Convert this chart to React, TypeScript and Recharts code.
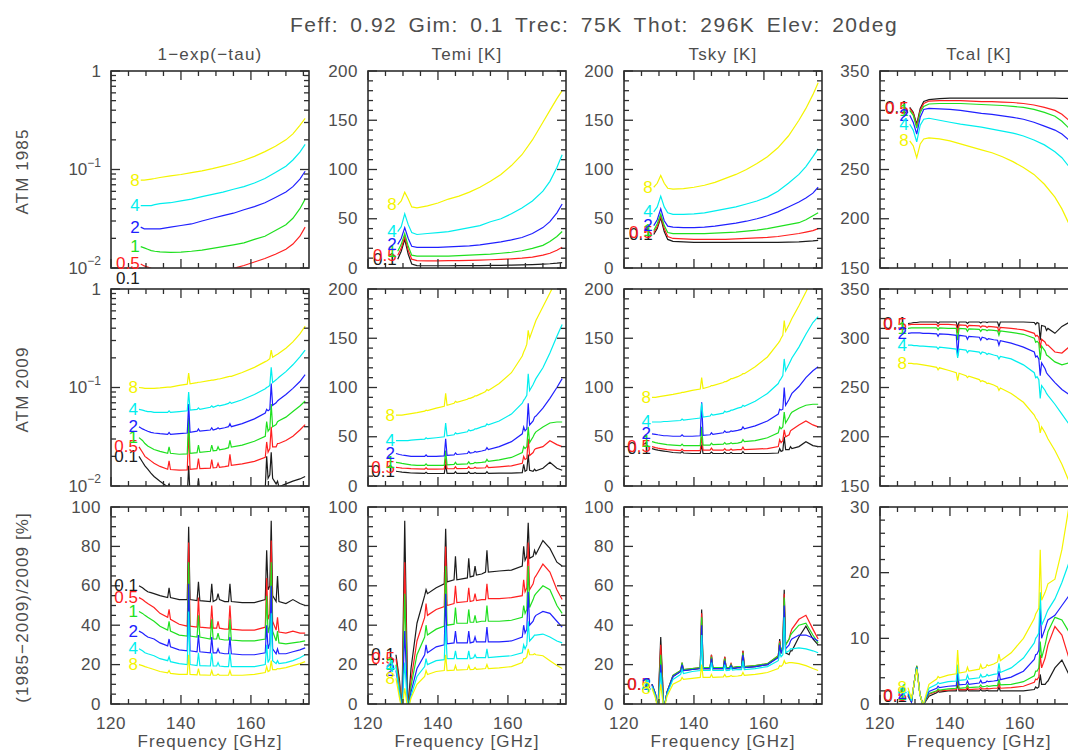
import React from 'react'
import { LineChart, Line, XAxis, YAxis } from 'recharts'

// precipitable water vapour per curve, and the IDL-ish colour order
const PWV = ['0.1', '0.5', '1', '2', '4', '8']
const COLORS = ['#1c1c1c', '#ff2020', '#1fe01f', '#2020ff', '#00eeee', '#f4f400']

const FONT = '"Liberation Sans", Arial, Helvetica, sans-serif'
const INK = '#4d4d4d'
const FRAME = '#2e2e2e'

// frequency grids [GHz]
const FREQ_1985 = [128.5, 129.5, 130.5, 131.5, 132.5, 134, 137, 140, 143, 146, 149, 152, 155, 158, 161, 164, 167, 170, 172, 174, 175.5]
const FREQ_2009 = [
  128, 129, 129.7, 130.5, 131.4, 132.3, 134,
  136.2, 136.6, 137, 139.5, 141.8, 142.2, 142.6,
  144.6, 145, 145.4, 148.4, 148.8, 149.2, 150.2,
  150.6, 151, 152.5, 153.6, 154, 154.4, 157.5,
  161, 164.1, 164.5, 164.9, 165.4, 165.8, 166.2,
  167.2, 167.6, 168, 170, 172, 174, 175.5,
]

// ---- ATM 1985 (one row per PWV: 0.1, 0.5, 1, 2, 4, 8)
const OPACITY_1985 = [
  [0.0078, 0.0074, 0.0071, 0.0068, 0.0066, 0.0064, 0.0061, 0.0059, 0.0058, 0.0058, 0.0058, 0.0059, 0.006, 0.0062, 0.0064, 0.0067, 0.0071, 0.0077, 0.0083, 0.0092, 0.0099],
  [0.011, 0.0105, 0.0102, 0.0099, 0.0097, 0.0095, 0.0092, 0.009, 0.009, 0.0091, 0.0093, 0.0096, 0.0099, 0.0106, 0.0115, 0.0125, 0.0138, 0.0155, 0.0175, 0.021, 0.026],
  [0.0165, 0.016, 0.0155, 0.015, 0.0148, 0.0146, 0.0144, 0.0145, 0.0148, 0.0152, 0.0158, 0.0165, 0.0172, 0.018, 0.0195, 0.021, 0.024, 0.0275, 0.032, 0.04, 0.05],
  [0.026, 0.025, 0.025, 0.025, 0.025, 0.025, 0.026, 0.027, 0.028, 0.03, 0.032, 0.034, 0.036, 0.039, 0.042, 0.046, 0.052, 0.059, 0.067, 0.08, 0.096],
  [0.043, 0.043, 0.043, 0.043, 0.044, 0.045, 0.046, 0.048, 0.05, 0.053, 0.056, 0.059, 0.063, 0.067, 0.073, 0.081, 0.093, 0.108, 0.125, 0.15, 0.18],
  [0.078, 0.078, 0.079, 0.08, 0.081, 0.083, 0.086, 0.089, 0.093, 0.097, 0.102, 0.108, 0.115, 0.124, 0.136, 0.152, 0.172, 0.2, 0.23, 0.28, 0.33],
]
const TEMI_1985 = [
  [9, 17, 29, 14, 4, 2.5, 2.3, 2.3, 2.3, 2.4, 2.4, 2.5, 2.6, 2.7, 2.9, 3.1, 3.4, 3.9, 4.3, 4.9, 5.5],
  [13, 20, 32, 18, 9, 7.5, 7.3, 7.3, 7.4, 7.5, 7.7, 8, 8.4, 8.8, 9.3, 10, 11, 13, 15, 18, 21],
  [17, 24, 35, 22, 13, 12, 12, 12, 12, 12.5, 13, 13.5, 14, 15, 16, 17.5, 20, 23, 27, 32, 37],
  [24, 30, 41, 30, 22, 21, 21, 21, 21.5, 22, 22.5, 23.5, 25, 26.5, 28.5, 31, 35, 41, 47, 56, 65],
  [37, 42, 55, 44, 36, 34, 35, 36, 37, 39, 41, 43, 47, 50, 55, 61, 68, 78, 88, 102, 115],
  [64, 68, 77, 70, 62, 61, 63, 66, 70, 73, 77, 82, 88, 95, 104, 115, 130, 148, 160, 172, 180],
]
const TSKY_1985 = [
  [34, 40, 51, 37, 29, 27, 26.5, 26, 26, 26, 26, 26, 26, 26, 26, 26, 26.2, 26.5, 27, 27.5, 28],
  [36, 42, 53, 40, 32, 30, 29.5, 29, 29, 29, 29, 29.5, 30, 30.5, 31, 32, 33.5, 35, 36.5, 38, 40],
  [38, 45, 55, 43, 36, 35, 35, 35, 35, 35.5, 36, 36.5, 37.5, 38.5, 40, 42, 44, 46, 49, 53, 56],
  [43, 49, 60, 48, 42.5, 41.5, 41, 41, 41.5, 42.5, 44, 45.5, 47.5, 50, 53, 57, 62, 67, 71, 76, 82],
  [57, 62, 73, 62, 56, 54.5, 54.5, 55, 56, 58, 60, 62, 65, 68, 72, 78, 86, 95, 103, 113, 121],
  [82, 86, 94, 86, 81, 80, 80.5, 82, 84, 87, 91, 95, 100, 106, 113, 122, 134, 150, 162, 176, 188],
]
const TCAL_1985 = [
  [313, 308, 296, 312, 319, 321, 322, 322.5, 322.5, 322.5, 322.5, 322.5, 322.5, 322.5, 322.5, 322.5, 322.5, 322.5, 322.3, 322.2, 322],
  [312, 307, 294, 310, 317, 319.5, 320, 320, 320, 319.5, 319, 319, 318.5, 318, 317, 315.5, 313, 310, 306, 300, 294],
  [310, 305, 292, 308, 314, 316.5, 317, 317, 317, 316.5, 316, 315.5, 315, 314, 313, 311, 308, 304, 299, 292, 285],
  [305, 298, 286, 303, 311, 312, 311.5, 311, 310, 308.5, 307, 306, 304.5, 303, 301, 298, 294, 290, 286, 280, 274],
  [296, 290, 278, 295, 301, 302, 300, 298, 296, 294.5, 293, 291, 289, 287, 284, 280, 275, 268, 262, 253, 245],
  [279, 274, 262, 276, 281, 282, 281, 279, 276, 273, 270, 267, 263, 258, 252, 245, 235, 222, 210, 195, 178],
]

// ---- ATM 2009
const OPACITY_2009 = [
  [0.02, 0.0175, 0.016, 0.0148, 0.0135, 0.0125, 0.0112, 0.0098, 0.0105, 0.0095, 0.0085, 0.008, 0.016, 0.0081, 0.0082, 0.012, 0.0082, 0.0083, 0.011, 0.0083, 0.0084, 0.0095, 0.0084, 0.0085, 0.0086, 0.0098, 0.0087, 0.0088, 0.009, 0.0095, 0.02, 0.012, 0.013, 0.022, 0.012, 0.0105, 0.0112, 0.0098, 0.0105, 0.0112, 0.0118, 0.0125],
  [0.025, 0.022, 0.02, 0.019, 0.018, 0.017, 0.0158, 0.0148, 0.018, 0.0147, 0.0145, 0.0146, 0.037, 0.0148, 0.015, 0.019, 0.015, 0.0152, 0.0185, 0.0153, 0.0154, 0.017, 0.0155, 0.0157, 0.016, 0.021, 0.0162, 0.0168, 0.0178, 0.0195, 0.028, 0.022, 0.024, 0.04, 0.025, 0.025, 0.027, 0.027, 0.029, 0.032, 0.037, 0.042],
  [0.031, 0.029, 0.027, 0.0255, 0.0245, 0.0235, 0.0225, 0.0215, 0.025, 0.0215, 0.021, 0.0212, 0.05, 0.0215, 0.0218, 0.026, 0.022, 0.0225, 0.026, 0.0228, 0.023, 0.025, 0.0233, 0.0238, 0.0245, 0.029, 0.0248, 0.026, 0.0285, 0.032, 0.045, 0.036, 0.038, 0.068, 0.04, 0.042, 0.045, 0.046, 0.05, 0.057, 0.065, 0.073],
  [0.04, 0.038, 0.037, 0.036, 0.035, 0.0345, 0.034, 0.0335, 0.035, 0.0335, 0.034, 0.0345, 0.068, 0.035, 0.036, 0.038, 0.036, 0.037, 0.039, 0.037, 0.038, 0.039, 0.038, 0.039, 0.04, 0.043, 0.04, 0.043, 0.048, 0.055, 0.06, 0.058, 0.06, 0.11, 0.066, 0.07, 0.073, 0.075, 0.085, 0.098, 0.115, 0.135],
  [0.06, 0.059, 0.058, 0.057, 0.057, 0.056, 0.056, 0.056, 0.058, 0.056, 0.057, 0.058, 0.09, 0.059, 0.06, 0.062, 0.06, 0.063, 0.065, 0.063, 0.065, 0.066, 0.065, 0.067, 0.069, 0.071, 0.069, 0.075, 0.085, 0.097, 0.1, 0.102, 0.105, 0.16, 0.112, 0.12, 0.123, 0.127, 0.145, 0.17, 0.205, 0.24],
  [0.1, 0.099, 0.098, 0.098, 0.098, 0.098, 0.099, 0.101, 0.101, 0.101, 0.105, 0.108, 0.14, 0.109, 0.112, 0.113, 0.113, 0.118, 0.119, 0.119, 0.121, 0.122, 0.122, 0.126, 0.129, 0.13, 0.13, 0.142, 0.16, 0.183, 0.186, 0.19, 0.196, 0.24, 0.203, 0.214, 0.218, 0.223, 0.25, 0.29, 0.35, 0.42],
]
const TEMI_2009 = [
  [15, 14.5, 14, 13.8, 13.5, 13.2, 13, 12.8, 14, 12.8, 12.7, 12.7, 22, 12.8, 12.8, 14.5, 12.8, 12.8, 14.5, 12.8, 12.8, 13.5, 12.8, 12.8, 12.9, 14.5, 12.9, 13, 13.1, 13.5, 22, 15, 16, 32, 16, 15, 17, 15.5, 18, 24, 18, 16],
  [19, 18.5, 18.2, 18, 17.8, 17.6, 17.4, 17.2, 18.5, 17.2, 17.2, 17.3, 28, 17.5, 17.6, 19.5, 17.7, 17.8, 19.5, 17.9, 18, 19, 18.1, 18.3, 18.5, 21, 18.7, 19.5, 20.5, 23, 30, 27, 28, 48, 31, 34, 37, 38, 40, 46, 42, 40],
  [24, 23.5, 23, 22.5, 22, 21.5, 21, 21, 22.5, 21, 21, 21, 36, 21.5, 22, 24, 22, 22.5, 24.5, 22.5, 23, 24, 23.5, 24, 24.5, 27, 25, 26.5, 29, 34, 40, 38, 40, 60, 44, 50, 53, 55, 60, 64, 65, 65],
  [33, 32, 31.5, 31, 30.5, 30, 30, 30, 31.5, 30, 30, 30.5, 48, 31, 31.5, 33.5, 32, 33, 35, 33.5, 34, 35, 34.5, 35.5, 36.5, 39, 37, 40, 45, 53, 60, 56, 58, 84, 62, 66, 70, 71, 79, 89, 100, 109],
  [46, 46, 46, 46, 46, 46.5, 47, 47.5, 49, 48, 49, 50, 64, 51, 52, 54, 53, 55, 57, 56, 57, 58, 58, 60, 61, 63, 62, 66, 73, 84, 87, 89, 92, 114, 97, 103, 106, 109, 120, 135, 152, 164],
  [72, 72, 72, 72.5, 73, 73.5, 74.5, 76, 77, 76.5, 79, 81, 94, 82, 84, 86, 85, 88, 89, 89, 90.5, 91.5, 91.5, 94, 96, 98, 97, 104, 115, 132, 136, 139, 144, 158, 150, 160, 164, 168, 182, 196, 210, 220],
]
const TSKY_2009 = [
  [38, 37, 36.5, 36, 35.5, 35, 34, 33.5, 35, 33.5, 33, 33, 42, 33, 33, 34.5, 33, 33, 34.5, 33, 33, 34, 33, 33, 33, 35, 33, 33, 33, 33.5, 38, 35, 36, 50, 37, 37, 40, 38, 40, 45, 41, 40],
  [40, 39, 38.5, 38, 37.5, 37, 36.5, 36, 37.5, 36, 36, 36, 50, 36.5, 36.5, 38.5, 36.5, 36.5, 38, 36.5, 36.5, 37.5, 36.5, 37, 37, 39.5, 37, 37.5, 38, 40, 47, 44, 46, 57, 50, 52, 56, 57, 62, 66, 62, 60],
  [45, 44, 43.5, 43, 42.5, 42, 41.5, 41, 42.5, 41, 41, 41, 60, 41.5, 41.5, 43.5, 42, 42.5, 44, 42.5, 43, 44, 43, 43.5, 44.5, 47, 45, 46, 49, 54, 60, 58, 60, 75, 64, 70, 73, 75, 79, 82, 83, 83],
  [53, 52.5, 52, 51.5, 51, 51, 50.5, 50.5, 52, 50.5, 50.5, 51, 85, 51.5, 52, 54, 52.5, 54, 56, 54.5, 55, 56, 55.5, 56.5, 57.5, 60, 58, 61, 66, 73, 78, 77, 78, 100, 82, 88, 91, 94, 101, 110, 117, 121],
  [65, 65, 65, 65, 65.5, 65.5, 66, 66.5, 68, 67, 68, 69, 84, 70, 71, 73, 72, 74, 76, 75, 76, 77, 77, 79, 80, 82, 81, 86, 94, 104, 107, 109, 112, 129, 117, 124, 127, 130, 141, 154, 166, 172],
  [90, 90, 90.5, 91, 91.5, 92, 93, 94.5, 95, 95, 97, 98.5, 110, 99, 101, 102, 102, 105, 106, 106, 108, 109, 109, 111, 113, 114, 114, 121, 131, 145, 147, 150, 153, 168, 157, 164, 167, 170, 183, 197, 212, 222],
]
const TCAL_2009 = [
  [315, 315.5, 316, 316, 316.5, 316.5, 316.5, 316.5, 315, 316.5, 316.5, 316.5, 311, 316.5, 316.5, 315, 316.5, 316.5, 315.5, 316.5, 316.5, 316, 316.5, 316.5, 316.5, 312, 316.5, 316.5, 316.5, 316, 314, 316, 315, 298, 313, 312, 308, 310, 305, 312, 316, 317],
  [313.5, 314, 314, 314, 314, 314, 314, 314, 312, 314, 314, 313.5, 305, 313.5, 313, 311, 313, 312.5, 311, 312.5, 312, 311, 312, 311.5, 311, 307, 311, 310, 308.5, 305, 302, 303, 301, 290, 299, 296, 293, 293, 286, 285, 291, 293],
  [310, 310.5, 310.5, 310.5, 310.5, 310.5, 310.5, 310.5, 308.5, 310.5, 310, 310, 298, 310, 309.5, 307, 309.5, 309, 307, 309, 308.5, 307.5, 308.5, 308, 307.5, 303, 307.5, 306, 304, 300, 296, 297, 295, 278, 292, 287, 283, 282, 276, 273, 275, 277],
  [305, 305.5, 305.5, 305.5, 305.5, 305, 305, 304.5, 302, 304.5, 304, 303, 282, 303, 302, 299, 302, 301, 298, 301, 300, 298.5, 299.5, 298.5, 298, 293, 297.5, 295, 291, 286, 281, 282, 279, 262, 275, 269, 265, 263, 255, 248, 243, 238],
  [293, 293, 292.5, 292.5, 292, 292, 291.5, 291, 289, 291, 290, 289, 280, 289, 288, 285.5, 287.5, 286, 284, 286, 285, 283.5, 284.5, 283, 282, 279, 281.5, 279, 273, 265, 260, 261, 258, 239, 252, 247, 244, 242, 233, 223, 213, 205],
  [274.5, 274.5, 274, 274, 273.5, 273, 272, 270.5, 268, 270, 267.5, 265, 257, 264.5, 262, 260, 261.5, 258, 256, 257, 255.5, 254, 254.5, 252.5, 250.5, 247, 249.5, 244, 235, 222, 219, 217, 214, 204, 210, 204, 201, 198, 186, 172, 155, 140],
]

// ---- (1985-2009)/2009 [%]
const DIFF_OPACITY = [
  [60, 59, 58, 57, 56.5, 56, 55, 54, 59, 54, 53, 53, 90, 53, 52.5, 62, 52.5, 52, 61, 52, 53, 56, 53, 52, 52, 61, 52, 51.5, 51.5, 53, 78, 58, 60, 93, 55, 52, 65, 52, 51, 53, 51, 50],
  [54, 53, 52, 51, 50, 49, 46, 44, 48, 43, 40.5, 39.5, 82, 39.5, 39, 54, 39, 38.5, 50, 38.5, 38.5, 42, 38.5, 38, 38, 50, 38, 37.5, 37.5, 39, 64, 43, 46, 83, 42, 37.5, 44, 36.5, 36, 37, 36, 36],
  [47, 46, 45, 44, 43, 42, 39.5, 37.5, 42, 37, 35, 34.5, 72, 34.5, 34, 45, 34, 33, 43, 33, 33, 36, 33, 32.5, 32.5, 43, 32.5, 32, 32, 33, 55, 36, 40, 72, 37, 32, 37, 31, 30.5, 31, 31.5, 32],
  [37, 36, 35, 34, 33.5, 33, 31, 29.5, 33, 29, 27.5, 27, 61, 27, 26.5, 35, 26.5, 26, 34, 26, 26, 28, 26, 25.5, 25.5, 34, 25.5, 25, 25, 26, 40, 28, 31, 60, 28, 25.5, 28, 25.5, 25.5, 26.5, 27.5, 28.5],
  [28, 27, 26, 25.5, 25, 24.5, 23, 22, 24, 21.5, 20.5, 20, 47, 20, 19.5, 26, 19.5, 19.3, 26, 19.3, 19.3, 21, 19.3, 19, 19, 26, 19, 19, 19, 20, 30, 21, 23, 46, 22, 20.5, 22, 20.5, 21, 22, 23.5, 25],
  [20, 19.5, 19, 18.5, 18, 17.5, 16.5, 15.8, 17, 15.5, 15, 15, 25, 15, 14.8, 18, 14.8, 14.6, 17, 14.6, 14.6, 15.2, 14.6, 14.6, 14.6, 17, 14.6, 14.6, 15, 16, 19, 16.5, 17, 22, 17.5, 17.5, 18, 17.8, 18.5, 19.5, 20.5, 21.5],
]
const DIFF_TEMI = [
  [25, 12, -3, 93, -3, 18, 41, 55, 58, 56, 59, 61, 89, 62, 63, 75, 63, 64, 74, 64.5, 65, 70, 65.5, 66, 67, 78, 67, 67.5, 68, 70, 80, 73, 75, 92, 74, 75, 78, 76, 83, 79, 72, 70],
  [23, 10, -3, 72, -3, 12, 32, 44, 51, 45, 48, 49.5, 80, 50, 51, 60, 51.5, 52, 59, 52, 52.5, 56, 52.5, 53, 53, 61, 53.5, 53.5, 54, 55, 63, 57, 59, 82, 58, 61, 64, 65, 71, 67, 58, 53],
  [20, 8, -3, 56, -3, 9, 25, 34, 40, 35, 38, 39.5, 70, 40, 40.5, 49, 41, 41, 48, 41.5, 41.5, 45, 41.5, 42, 42, 50, 42, 42, 42.5, 44, 50, 46, 48, 70, 49, 53, 55, 56, 60, 58, 50, 46],
  [17, 6, -3, 37, -3, 6, 18, 25, 30, 26, 29, 30, 56, 30.5, 31, 37, 31, 31, 37, 31, 31.5, 34, 31.5, 31.5, 31.5, 39, 31.5, 31.5, 32, 34, 40, 36, 38, 57, 40, 42, 44, 45, 47, 46, 42, 39],
  [19, 5, -3, 21, -3, 4, 14, 19, 23, 20, 22, 22.5, 40, 23, 23, 27, 23, 23, 27, 23, 23.5, 25, 23.5, 23.5, 23.5, 28, 23.5, 24, 24.5, 26, 30, 28, 30, 42, 32, 34, 35, 35, 35.5, 34, 32, 31],
  [13, 3, -3, 8, -3, 3, 10, 14, 17, 15, 16.5, 17, 25, 17, 17.2, 19.5, 17.2, 17.5, 19.5, 17.5, 17.6, 18.5, 17.6, 17.8, 18, 20, 18, 18.3, 19, 21, 23, 23, 24, 28, 25, 25, 25.5, 25, 24.5, 22, 19.5, 18],
]
const DIFF_TSKY = [
  [10, 5, -3, 34, -3, 6, 14, 16.5, 20, 17, 17.5, 18, 48, 18, 18, 25, 18, 18, 24, 18, 18, 20, 18, 18.5, 18.5, 27, 18.5, 19, 20, 24, 33, 26, 28, 58, 26, 25, 27, 27, 34, 39.5, 33, 30],
  [10, 5, -3, 30, -3, 6, 14.5, 17, 21, 17.5, 18, 18.5, 46, 18.5, 18.5, 25, 18.5, 18.5, 24, 18.5, 18.5, 20.5, 18.5, 19, 19, 27, 19, 19.5, 20.5, 24.5, 32, 27, 29, 56, 30, 33, 36, 38, 43, 45, 38, 33],
  [10, 5, -3, 25, -3, 6, 14.5, 17, 21, 17.5, 18, 18.5, 44, 18.5, 18.5, 24, 18.5, 18.5, 23, 18.5, 18.5, 20, 18.5, 19, 19, 26, 19, 19.5, 20.5, 24.5, 31, 27, 29, 54, 30, 33, 35, 36, 40, 41, 35, 31],
  [10, 5, -3, 20, -3, 6, 14, 16.5, 20, 17, 17.5, 18, 40, 18, 18, 23, 18, 18, 22, 18, 18, 19.5, 18, 18.5, 18.5, 25, 18.5, 19, 20, 23.5, 30, 26, 28, 50, 28, 30, 32, 33, 35, 35, 33.5, 32],
  [9, 4, -3, 16, -3, 5, 12.5, 15, 17.5, 15.5, 16.5, 17, 35, 17, 17, 21, 17, 17, 20, 17, 17.2, 18.5, 17.2, 17.5, 17.5, 22, 17.5, 18, 19, 22, 26, 24, 25, 44, 26, 27, 28, 28, 28.5, 28, 27, 26],
  [8, 3, -3, 10, -3, 4, 10, 12, 13.5, 12.5, 13, 13.5, 20, 13.5, 13.5, 15, 13.5, 13.8, 15, 13.8, 14, 14.5, 14, 14.2, 14.5, 16, 14.5, 15, 16, 18, 19.5, 19, 20, 22, 20.5, 21, 21, 21, 20.5, 19.5, 18, 17],
]
const DIFF_TCAL = [
  [1.2, 0.3, 3, 5.7, 1.5, -0.2, 1.2, 1.7, 1.9, 1.8, 2, 2, 3, 2, 2, 2.3, 2, 2, 2.2, 2, 2, 2.1, 2, 2, 2, 2.6, 2, 2, 2, 2.2, 2.6, 2.4, 2.6, 4.5, 3, 3, 3.3, 3.5, 5.5, 6.7, 4.5, 3.5],
  [1.3, 0.3, 3, 5.8, 1.5, -0.2, 1.5, 1.9, 2.1, 2, 2.1, 2.2, 3.5, 2.2, 2.2, 2.6, 2.2, 2.3, 2.5, 2.3, 2.3, 2.4, 2.3, 2.4, 2.4, 3.2, 2.4, 2.5, 2.7, 3.3, 3.8, 3.7, 4.1, 7.5, 5.5, 7, 8, 9, 11.8, 10.5, 7, 6],
  [1.4, 0.3, 3, 5.8, 1.5, -0.2, 1.6, 2, 2.3, 2.1, 2.3, 2.4, 4, 2.4, 2.5, 2.9, 2.5, 2.6, 2.9, 2.6, 2.7, 2.8, 2.7, 2.8, 2.8, 3.8, 2.9, 3, 3.4, 4.3, 5, 5, 5.5, 9.5, 7, 9, 10, 11, 13.2, 12.8, 11, 9.5],
  [1.6, 0.3, 3, 5.6, 1.5, -0.2, 1.9, 2.4, 2.7, 2.5, 2.7, 2.8, 4.8, 2.9, 3, 3.5, 3, 3.2, 3.6, 3.2, 3.3, 3.5, 3.4, 3.5, 3.6, 5, 3.7, 4.1, 5, 6.8, 7.5, 7.6, 8.2, 15, 10, 11.5, 12.2, 12.8, 13.5, 15, 16.5, 17],
  [2, 0.5, 3, 5.5, 1.5, -0.2, 2.4, 3, 3.3, 3.1, 3.4, 3.5, 6, 3.6, 3.7, 4.4, 3.8, 4, 4.5, 4.1, 4.2, 4.5, 4.3, 4.5, 4.6, 6.2, 4.8, 5.5, 7, 9.3, 10, 10.3, 10.8, 17, 12, 13.2, 13.8, 14.3, 16, 18.5, 21.5, 24],
  [2.5, 0.8, 3, 5.3, 1.5, -0.2, 3, 3.8, 4.2, 4, 4.4, 4.6, 8.2, 4.7, 4.9, 5.6, 5, 5.3, 6, 5.4, 5.6, 6, 5.8, 6.1, 6.4, 7.6, 6.6, 7.8, 10, 13, 13.7, 14.1, 14.6, 23.5, 15.8, 17, 17.6, 18.3, 19, 23.5, 30, 33],
]

// axis ticks (minor + major)
const X_TICKS = [120, 125, 130, 135, 140, 145, 150, 155, 160, 165, 170, 175]
const LOG_TICKS = [0.01, 0.02, 0.03, 0.04, 0.05, 0.06, 0.07, 0.08, 0.09, 0.1, 0.2, 0.3, 0.4, 0.5, 0.6, 0.7, 0.8, 0.9, 1]
const T200_TICKS = [0, 10, 20, 30, 40, 50, 60, 70, 80, 90, 100, 110, 120, 130, 140, 150, 160, 170, 180, 190, 200]
const TCAL_TICKS = [150, 160, 170, 180, 190, 200, 210, 220, 230, 240, 250, 260, 270, 280, 290, 300, 310, 320, 330, 340, 350]
const PCT_TICKS = [0, 5, 10, 15, 20, 25, 30, 35, 40, 45, 50, 55, 60, 65, 70, 75, 80, 85, 90, 95, 100]
const PCT30_TICKS = [0, 2, 4, 6, 8, 10, 12, 14, 16, 18, 20, 22, 24, 26, 28, 30]

const COL_TITLES = ['1\u2212exp(\u2212tau)', 'Temi [K]', 'Tsky [K]', 'Tcal [K]']
const ROW_TITLES = ['ATM 1985', 'ATM 2009', '(1985\u22122009)/2009 [%]']

// layout in page pixels
const COL_X = [111, 368, 624, 880]
const ROW_Y = [71, 289, 507]
const PW = 198
const PH = 197
const YW = 62
const TOP = 12
const RIGHT = 12
const XH = 46

type PanelProps = {
  col: number
  row: number
  freq: number[]
  series: number[][]
  domain: [number, number]
  ticks: number[]
  major: number
  log?: boolean
}

function Panel({ col, row, freq, series, domain, ticks, major, log }: PanelProps) {
  const data = freq.map((f, i) => {
    const r: Record<string, number> = { f }
    series.forEach((s, k) => {
      r[`s${k}`] = s[i]
    })
    return r
  })
  const bottom = TOP + PH
  const showX = row === 2
  const isMajorY = (v: number) => {
    if (log) {
      const e = Math.log10(v)
      return Math.abs(e - Math.round(e)) < 1e-6
    }
    return Math.abs(v / major - Math.round(v / major)) < 1e-6
  }

  const xTick = (p: any) => {
    const x = p.x
    const v = p.payload.value
    const big = v % 20 === 0
    const len = big ? 9 : 5
    return (
      <g>
        {p.index === 0 && <rect x={YW} y={TOP} width={PW} height={PH} fill="none" stroke={FRAME} strokeWidth={1.6} />}
        <line x1={x} x2={x} y1={bottom} y2={bottom - len} stroke={FRAME} strokeWidth={1.3} />
        <line x1={x} x2={x} y1={TOP} y2={TOP + len} stroke={FRAME} strokeWidth={1.3} />
        {showX && big && (
          <text x={x} y={bottom + 19} textAnchor="middle" dominantBaseline="central" fill={INK} fontSize={17} letterSpacing={0.5} fontFamily={FONT}>
            {v}
          </text>
        )}
      </g>
    )
  }

  const yTick = (p: any) => {
    const y = p.y
    const v = p.payload.value
    const big = isMajorY(v)
    const len = big ? 9 : 5
    let label: React.ReactNode = null
    if (big) {
      if (log) {
        const e = Math.round(Math.log10(v))
        label = (
          <text x={YW - 10} y={y} textAnchor="end" dominantBaseline="central" fill={INK} fontSize={17} fontFamily={FONT}>
            {e === 0 ? '1' : (
              <>
                10<tspan dy={-7} fontSize={12}>{`\u2212${-e}`}</tspan>
              </>
            )}
          </text>
        )
      } else {
        label = (
          <text x={YW - 10} y={y} textAnchor="end" dominantBaseline="central" fill={INK} fontSize={17} letterSpacing={0.5} fontFamily={FONT}>
            {v}
          </text>
        )
      }
    }
    return (
      <g>
        <line x1={YW} x2={YW + len} y1={y} y2={y} stroke={FRAME} strokeWidth={1.3} />
        <line x1={YW + PW} x2={YW + PW - len} y1={y} y2={y} stroke={FRAME} strokeWidth={1.3} />
        {label}
      </g>
    )
  }

  const curveLabel = (k: number) => (p: any) => {
    if (p.index !== 0) return <g />
    const x = p.x ?? p.viewBox?.x
    const y = p.y ?? p.viewBox?.y
    return (
      <text x={x - 1} y={y} textAnchor="end" dominantBaseline="central" fill={COLORS[k]} fontSize={17} fontFamily={FONT}>
        {PWV[k]}
      </text>
    )
  }

  return (
    <div style={{ position: 'absolute', left: COL_X[col] - YW, top: ROW_Y[row] - TOP }}>
      <LineChart width={YW + PW + RIGHT} height={TOP + PH + XH} data={data} margin={{ top: TOP, right: RIGHT, bottom: 0, left: 0 }}>
        <XAxis dataKey="f" type="number" domain={[120, 176.6]} ticks={X_TICKS} interval={0} allowDataOverflow tick={xTick} tickLine={false} axisLine={false} height={XH} />
        <YAxis type="number" scale={log ? 'log' : 'linear'} domain={domain} ticks={ticks} interval={0} allowDataOverflow tick={yTick} tickLine={false} axisLine={false} width={YW} />
        {series.map((_, k) => (
          <Line
            key={k}
            type="linear"
            dataKey={`s${k}`}
            stroke={COLORS[k]}
            strokeWidth={1.2}
            dot={false}
            isAnimationActive={false}
            label={curveLabel(k)}
          />
        ))}
      </LineChart>
    </div>
  )
}

export default function App() {
  const textStyle = { fontFamily: FONT, fill: INK }
  return (
    <div style={{ position: 'absolute', left: 0, top: 0, width: 1068, height: 752, background: '#fff', overflow: 'hidden' }}>
      <svg width={1068} height={752} style={{ position: 'absolute', left: 0, top: 0 }}>
        <text x={594} y={24} textAnchor="middle" dominantBaseline="central" fontSize={21} letterSpacing={1.5} wordSpacing={4} style={textStyle}>
          Feff: 0.92 Gim: 0.1 Trec: 75K Thot: 296K Elev: 20deg
        </text>
        {COL_TITLES.map((t, i) => (
          <text key={t} x={COL_X[i] + PW / 2} y={54} textAnchor="middle" dominantBaseline="central" fontSize={17} letterSpacing={1.2} style={textStyle}>
            {t}
          </text>
        ))}
        {ROW_TITLES.map((t, i) => {
          const cy = ROW_Y[i] + PH / 2 + 2
          return (
            <text key={t} x={22} y={cy} transform={`rotate(-90 22 ${cy})`} textAnchor="middle" dominantBaseline="central" fontSize={17} letterSpacing={1.1} style={textStyle}>
              {t}
            </text>
          )
        })}
        {COL_X.map((x) => (
          <text key={x} x={x + PW / 2} y={741} textAnchor="middle" dominantBaseline="central" fontSize={17} letterSpacing={1.1} style={textStyle}>
            Frequency [GHz]
          </text>
        ))}
      </svg>

      <Panel col={0} row={0} freq={FREQ_1985} series={OPACITY_1985} domain={[0.01, 1]} ticks={LOG_TICKS} major={1} log />
      <Panel col={1} row={0} freq={FREQ_1985} series={TEMI_1985} domain={[0, 200]} ticks={T200_TICKS} major={50} />
      <Panel col={2} row={0} freq={FREQ_1985} series={TSKY_1985} domain={[0, 200]} ticks={T200_TICKS} major={50} />
      <Panel col={3} row={0} freq={FREQ_1985} series={TCAL_1985} domain={[150, 350]} ticks={TCAL_TICKS} major={50} />

      <Panel col={0} row={1} freq={FREQ_2009} series={OPACITY_2009} domain={[0.01, 1]} ticks={LOG_TICKS} major={1} log />
      <Panel col={1} row={1} freq={FREQ_2009} series={TEMI_2009} domain={[0, 200]} ticks={T200_TICKS} major={50} />
      <Panel col={2} row={1} freq={FREQ_2009} series={TSKY_2009} domain={[0, 200]} ticks={T200_TICKS} major={50} />
      <Panel col={3} row={1} freq={FREQ_2009} series={TCAL_2009} domain={[150, 350]} ticks={TCAL_TICKS} major={50} />

      <Panel col={0} row={2} freq={FREQ_2009} series={DIFF_OPACITY} domain={[0, 100]} ticks={PCT_TICKS} major={20} />
      <Panel col={1} row={2} freq={FREQ_2009} series={DIFF_TEMI} domain={[0, 100]} ticks={PCT_TICKS} major={20} />
      <Panel col={2} row={2} freq={FREQ_2009} series={DIFF_TSKY} domain={[0, 100]} ticks={PCT_TICKS} major={20} />
      <Panel col={3} row={2} freq={FREQ_2009} series={DIFF_TCAL} domain={[0, 30]} ticks={PCT30_TICKS} major={10} />
    </div>
  )
}
